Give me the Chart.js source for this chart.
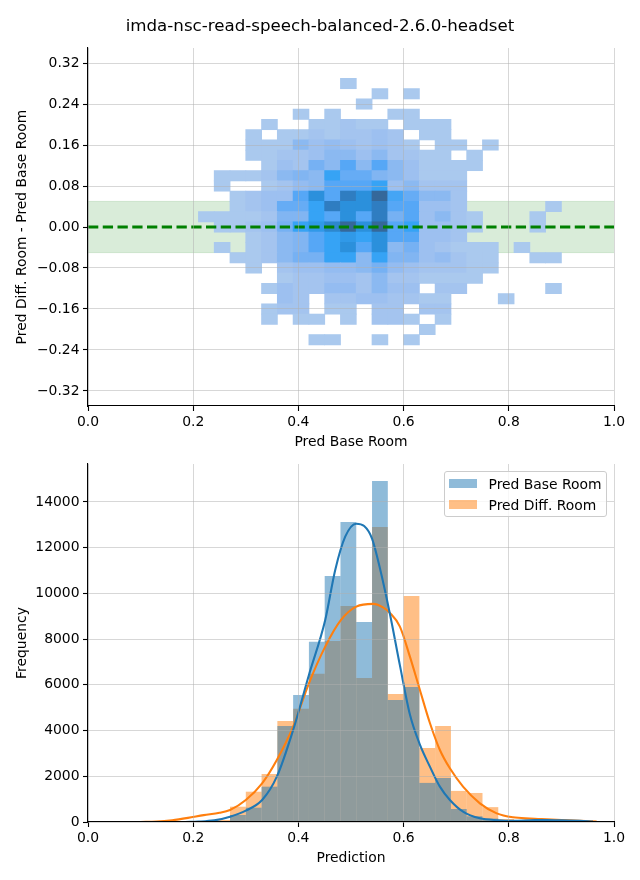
<!DOCTYPE html>
<html>
<head>
<meta charset="utf-8">
<script src="https://cdn.jsdelivr.net/npm/chart.js@4.4.1/dist/chart.umd.min.js"></script>
<style>
  html, body { margin: 0; padding: 0; background: #fff; }
  #wrap { position: relative; width: 640px; height: 880px; overflow: hidden; font-family: 'DejaVu Sans', sans-serif; }
  #c1 { position: absolute; left: 0; top: 0; }
  #c2 { position: absolute; left: 0; top: 456px; }
  .lgbox { position: absolute; left: 444px; top: 471px; width: 161px; height: 44px; border: 1px solid #cccccc; border-radius: 3px; background: rgba(255,255,255,0.8); }
  .lgpatch { position: absolute; width: 27.8px; height: 9.7px; }
  .lgtext { position: absolute; font-size: 13.9px; line-height: 16px; color: #000; white-space: nowrap; font-family: 'DejaVu Sans', sans-serif; }
</style>
</head>
<body>
<div id="wrap">
  <canvas id="c1" width="640" height="456"></canvas>
  <canvas id="c2" width="640" height="424"></canvas>
</div>
<script>
// ---------------- DATA ----------------
const chartTitle = 'imda-nsc-read-speech-balanced-2.6.0-headset';
const seriesNames = ['Pred Base Room', 'Pred Diff. Room'];

// top: 2D histogram (x = Pred Base Room, y = Diff - Base)
const heatXCenters = [0.225, 0.255, 0.285, 0.315, 0.345, 0.375, 0.405, 0.435, 0.465, 0.495, 0.525, 0.555,
                      0.585, 0.615, 0.645, 0.675, 0.705, 0.735, 0.765, 0.795, 0.825, 0.855, 0.885];
const heatYCenters = [0.28, 0.26, 0.24, 0.22, 0.20, 0.18, 0.16, 0.14, 0.12, 0.10, 0.08, 0.06, 0.04, 0.02, 0.00,
                      -0.02, -0.04, -0.06, -0.08, -0.10, -0.12, -0.14, -0.16, -0.18, -0.20, -0.22];
const heatXBinWidth = 0.03;
const heatYBinHeight = 0.02;
const heatCounts = [
  [0,0,0,0,0,0,0,0,0,10,0,0,0,0,0,0,0,0,0,0,0,0,0],
  [0,0,0,0,0,0,0,0,0,0,0,10,0,10,0,0,0,0,0,0,0,0,0],
  [0,0,0,0,0,0,0,0,0,0,10,0,0,0,0,0,0,0,0,0,0,0,0],
  [0,0,0,0,0,0,10,0,10,0,0,0,10,10,0,0,0,0,0,0,0,0,0],
  [0,0,0,0,10,0,0,10,10,110,10,10,0,10,10,10,0,0,0,0,0,0,0],
  [0,0,0,10,0,10,10,110,10,110,110,215,110,0,10,10,0,0,0,0,0,0,0],
  [0,0,0,10,10,10,420,215,320,215,110,215,110,10,0,10,10,0,10,0,0,0,0],
  [0,0,0,10,10,110,110,215,420,420,215,420,110,110,10,10,0,10,0,0,0,0,0],
  [0,0,0,0,10,215,110,625,420,830,420,830,420,215,10,10,10,10,0,0,0,0,0],
  [0,10,10,10,110,420,525,420,1035,730,730,525,420,215,10,10,10,0,0,0,0,0,0],
  [0,10,0,0,10,110,320,420,830,830,830,1035,215,420,110,110,110,0,0,0,0,0,0],
  [0,0,10,110,215,215,830,1240,830,1450,1240,1650,935,730,420,420,110,0,0,0,0,0,0],
  [0,0,10,110,215,730,730,1035,1450,1240,1240,1450,830,830,215,215,110,0,0,0,0,0,10],
  [10,10,10,10,110,525,525,1035,830,1240,830,1450,625,830,215,420,110,10,0,0,0,10,0],
  [0,10,10,110,215,625,1035,1140,1345,1650,1240,1650,830,1035,215,215,110,10,0,0,0,10,0],
  [0,0,0,10,110,420,525,830,1035,1140,1035,1240,830,830,215,215,110,0,0,0,0,0,0],
  [0,10,0,10,110,420,525,830,1035,1240,830,1240,420,625,215,110,10,10,10,0,10,0,0],
  [0,0,10,10,110,420,625,625,1035,1035,420,1035,525,525,215,320,110,10,10,0,0,10,10],
  [0,0,0,10,0,110,215,215,320,320,420,625,320,215,110,110,110,10,10,0,0,0,0],
  [0,0,0,0,0,10,110,110,215,215,110,420,110,110,10,10,10,10,0,0,0,0,0],
  [0,0,0,0,10,215,110,110,320,320,110,420,215,215,0,110,110,0,0,0,0,0,10],
  [0,0,0,0,0,215,110,0,110,110,215,215,110,110,10,10,0,0,0,10,0,0,0],
  [0,0,0,0,10,110,110,0,10,10,0,110,110,0,110,110,0,0,0,0,0,0,0],
  [0,0,0,0,10,0,10,10,0,10,0,110,110,10,0,10,0,0,0,0,0,0,0],
  [0,0,0,0,0,0,0,0,0,0,0,0,0,0,10,0,0,0,0,0,0,0,0],
  [0,0,0,0,0,0,0,10,10,0,0,10,0,10,0,0,0,0,0,0,0,0,0]
];
const bandHalfWidth = 0.05;
const topXTicks = [0, 0.2, 0.4, 0.6, 0.8, 1.0];
const topYTicks = [-0.32, -0.24, -0.16, -0.08, 0, 0.08, 0.16, 0.24, 0.32];

// bottom: 1D histograms + KDE
const histCenters = [0.165, 0.195, 0.225, 0.255, 0.285, 0.315, 0.345, 0.375, 0.405, 0.435, 0.465, 0.495, 0.525,
                     0.555, 0.585, 0.615, 0.645, 0.675, 0.705, 0.735, 0.765, 0.795, 0.825, 0.855, 0.885, 0.915, 0.945];
const baseRoomCounts = [0, 0, 10, 40, 306, 626, 1545, 4200, 5550, 7880, 10760, 13120, 8750,
                        14920, 5340, 5900, 1710, 1925, 570, 250, 150, 50, 40, 30, 30, 10, 5];
const diffRoomCounts = [10, 20, 40, 90, 670, 1326, 2100, 4420, 4950, 6480, 7920, 9450, 6300,
                        12900, 5600, 9890, 3240, 4200, 1360, 1270, 650, 130, 80, 60, 60, 40, 30];
const baseKdeX = [0.185, 0.21, 0.24, 0.27, 0.30, 0.331, 0.359, 0.39, 0.42, 0.451, 0.47, 0.489, 0.51, 0.525,
                  0.54, 0.555, 0.574, 0.593, 0.612, 0.631, 0.65, 0.669, 0.688, 0.713, 0.745, 0.78, 0.808,
                  0.84, 0.872, 0.90, 0.935, 0.96];
const baseKdeY = [0, 15, 70, 233, 500, 962, 1983, 4025, 6431, 8838, 11025, 12483, 13050, 12950,
                  12400, 11100, 9100, 6850, 4700, 3380, 2421, 1546, 962, 452, 160, 80, 58,
                  75, 90, 70, 58, 20];
const diffKdeX = [0.10, 0.13, 0.16, 0.19, 0.22, 0.25, 0.27, 0.30, 0.331, 0.359, 0.39, 0.42, 0.451, 0.481,
                  0.51, 0.542, 0.56, 0.574, 0.593, 0.612, 0.631, 0.65, 0.669, 0.688, 0.713, 0.745, 0.777,
                  0.808, 0.84, 0.872, 0.90, 0.935, 0.967];
const diffKdeY = [0, 20, 80, 180, 300, 400, 525, 962, 1692, 2713, 4171, 6066, 7671, 8838,
                  9420, 9540, 9400, 9144, 8546, 7233, 5775, 4331, 3150, 2348, 1546, 817, 379,
                  204, 150, 117, 90, 58, 20];
const bottomXTicks = [0, 0.2, 0.4, 0.6, 0.8, 1.0];
const bottomYTicks = [0, 2000, 4000, 6000, 8000, 10000, 12000, 14000];

// ---------------- STYLE ----------------
const FONT = "'DejaVu Sans', sans-serif";
const tickFont = { family: FONT, size: 13.9 };
const gridColor = 'rgba(176,176,176,0.5)';
const baseColor = 'rgba(31,119,180,0.5)';
const diffColor = 'rgba(255,127,14,0.5)';
const cmapStops = [[171,201,238],[158,192,240],[140,185,241],[119,177,243],[87,167,246],
                   [54,163,245],[43,144,220],[47,126,194],[53,104,154]];
function cmap(t) {
  t = Math.max(0, Math.min(1, t));
  const p = t * (cmapStops.length - 1);
  const i = Math.min(Math.floor(p), cmapStops.length - 2);
  const f = p - i;
  const a = cmapStops[i], b = cmapStops[i + 1];
  const c = a.map((v, k) => Math.round(v + (b[k] - v) * f));
  return `rgb(${c[0]},${c[1]},${c[2]})`;
}
const fmtMinus = (s) => s.replace('-', '\u2212');

function axisBase(extra) {
  return Object.assign({
    type: 'linear',
    offset: false,
    grid: { color: gridColor, lineWidth: 1, z: 1, offset: false, drawTicks: true,
            tickLength: 5, tickColor: '#000', tickWidth: 1.1 },
    border: { display: true, color: '#000', width: 1.1, z: 2 },
  }, extra);
}

// ---------------- TOP CHART ----------------
const maxCount = Math.max(...heatCounts.flat());
const cells = [], cellColors = [];
heatCounts.forEach((row, r) => row.forEach((n, c) => {
  if (n > 0) {
    cells.push({ x: heatXCenters[c], y: [heatYCenters[r] - heatYBinHeight / 2, heatYCenters[r] + heatYBinHeight / 2] });
    cellColors.push(cmap(n / maxCount));
  }
}));

new Chart(document.getElementById('c1'), {
  type: 'bar',
  data: {
    datasets: [
      { type: 'line', label: 'band-hi', data: [{ x: 0, y: bandHalfWidth }, { x: 1, y: bandHalfWidth }],
        fill: '+1', backgroundColor: 'rgba(0,128,0,0.15)', borderColor: 'rgba(0,128,0,0.15)',
        borderWidth: 1, pointRadius: 0, order: 3 },
      { type: 'line', label: 'band-lo', data: [{ x: 0, y: -bandHalfWidth }, { x: 1, y: -bandHalfWidth }],
        fill: false, borderColor: 'rgba(0,128,0,0.15)', borderWidth: 1, pointRadius: 0, order: 3 },
      { type: 'bar', label: 'counts', data: cells, backgroundColor: cellColors, borderWidth: 0,
        barPercentage: 1, categoryPercentage: 1, inflateAmount: 0.4, order: 2 },
      { type: 'line', label: 'zero', data: [{ x: 0, y: 0 }, { x: 1, y: 0 }],
        borderColor: '#008000', borderWidth: 2.78, borderDash: [10.3, 4.45], pointRadius: 0,
        fill: false, order: 0 }
    ]
  },
  options: {
    responsive: false, animation: false, devicePixelRatio: 1,
    layout: { padding: { left: 0, right: 0, top: 0, bottom: 0 } },
    plugins: {
      legend: { display: false }, tooltip: { enabled: false },
      title: { display: true, text: chartTitle, color: '#000',
               font: { family: FONT, size: 16.67, weight: 'normal', lineHeight: 1.2 },
               padding: { top: 17, bottom: 11 } }
    },
    scales: {
      x: axisBase({
        min: 0, max: 1,
        ticks: { font: tickFont, color: '#000', padding: 3.5, maxRotation: 0, autoSkip: false,
                 callback: (v) => Number(v).toFixed(1) },
        title: { display: true, text: 'Pred Base Room', color: '#000', font: tickFont,
                 padding: { top: 0, bottom: 5.5 } },
        afterBuildTicks: (s) => { s.ticks = topXTicks.map(v => ({ value: v })); },
        afterFit: (s) => { s.height = 50; s.paddingLeft = 0; s.paddingRight = 26; }
      }),
      y: axisBase({
        min: -0.3493, max: 0.3493,
        grid: { color: (ctx) => (ctx.tick && Math.abs(ctx.tick.value) < 1e-9) ? 'rgba(0,0,0,0)' : gridColor,
                lineWidth: 1, z: 1, drawTicks: true, tickLength: 5, tickColor: '#000', tickWidth: 1.1 },
        ticks: { font: tickFont, color: '#000', padding: 3.5, autoSkip: false,
                 callback: (v) => fmtMinus(Number(v).toFixed(2)) },
        title: { display: true, text: 'Pred Diff. Room - Pred Base Room', color: '#000', font: tickFont,
                 padding: { top: 13.7, bottom: 0 } },
        afterBuildTicks: (s) => { s.ticks = topYTicks.map(v => ({ value: v })); },
        afterFit: (s) => { s.width = 88; s.paddingTop = 0; s.paddingBottom = 0; }
      })
    }
  }
});

// ---------------- BOTTOM CHART ----------------
new Chart(document.getElementById('c2'), {
  type: 'bar',
  data: {
    datasets: [
      { type: 'line', label: seriesNames[0] + ' KDE', data: baseKdeX.map((x, i) => ({ x, y: baseKdeY[i] })),
        borderColor: '#1f77b4', borderWidth: 2.08, pointRadius: 0, fill: false,
        cubicInterpolationMode: 'monotone', order: 0 },
      { type: 'line', label: seriesNames[1] + ' KDE', data: diffKdeX.map((x, i) => ({ x, y: diffKdeY[i] })),
        borderColor: '#ff7f0e', borderWidth: 2.08, pointRadius: 0, fill: false,
        cubicInterpolationMode: 'monotone', order: 0 },
      { type: 'bar', label: seriesNames[0], data: histCenters.map((x, i) => ({ x, y: baseRoomCounts[i] })),
        backgroundColor: baseColor, borderWidth: 0, grouped: false, barPercentage: 1, categoryPercentage: 1,
        inflateAmount: 0, order: 1 },
      { type: 'bar', label: seriesNames[1], data: histCenters.map((x, i) => ({ x, y: diffRoomCounts[i] })),
        backgroundColor: diffColor, borderWidth: 0, grouped: false, barPercentage: 1, categoryPercentage: 1,
        inflateAmount: 0, order: 2 }
    ]
  },
  options: {
    responsive: false, animation: false, devicePixelRatio: 1,
    layout: { padding: { left: 0, right: 0, top: 8, bottom: 0 } },
    plugins: { legend: { display: false }, tooltip: { enabled: false }, title: { display: false } },
    scales: {
      x: axisBase({
        min: 0, max: 1,
        ticks: { font: tickFont, color: '#000', padding: 3.5, maxRotation: 0, autoSkip: false,
                 callback: (v) => Number(v).toFixed(1) },
        title: { display: true, text: 'Prediction', color: '#000', font: tickFont,
                 padding: { top: 0, bottom: 13.5 } },
        afterBuildTicks: (s) => { s.ticks = bottomXTicks.map(v => ({ value: v })); },
        afterFit: (s) => { s.height = 58; s.paddingLeft = 0; s.paddingRight = 26; }
      }),
      y: axisBase({
        min: 0, max: 15660,
        ticks: { font: tickFont, color: '#000', padding: 3.5, autoSkip: false,
                 callback: (v) => String(Math.round(v)) },
        title: { display: true, text: 'Frequency', color: '#000', font: tickFont,
                 padding: { top: 13.7, bottom: 0 } },
        afterBuildTicks: (s) => { s.ticks = bottomYTicks.map(v => ({ value: v })); },
        afterFit: (s) => { s.width = 88; s.paddingTop = 0; s.paddingBottom = 0; }
      })
    }
  }
});

// ---------------- LEGEND (inside bottom axes) ----------------
(function () {
  const wrap = document.getElementById('wrap');
  const box = document.createElement('div');
  box.className = 'lgbox';
  wrap.appendChild(box);
  const colors = [baseColor, diffColor];
  seriesNames.forEach((name, i) => {
    const p = document.createElement('div');
    p.className = 'lgpatch';
    p.style.left = '449px';
    p.style.top = (478.5 + i * 21) + 'px';
    p.style.background = colors[i];
    wrap.appendChild(p);
    const t = document.createElement('div');
    t.className = 'lgtext';
    t.style.left = '488.5px';
    t.style.top = (475.5 + i * 21) + 'px';
    t.textContent = name;
    wrap.appendChild(t);
  });
})();
</script>
</body>
</html>
